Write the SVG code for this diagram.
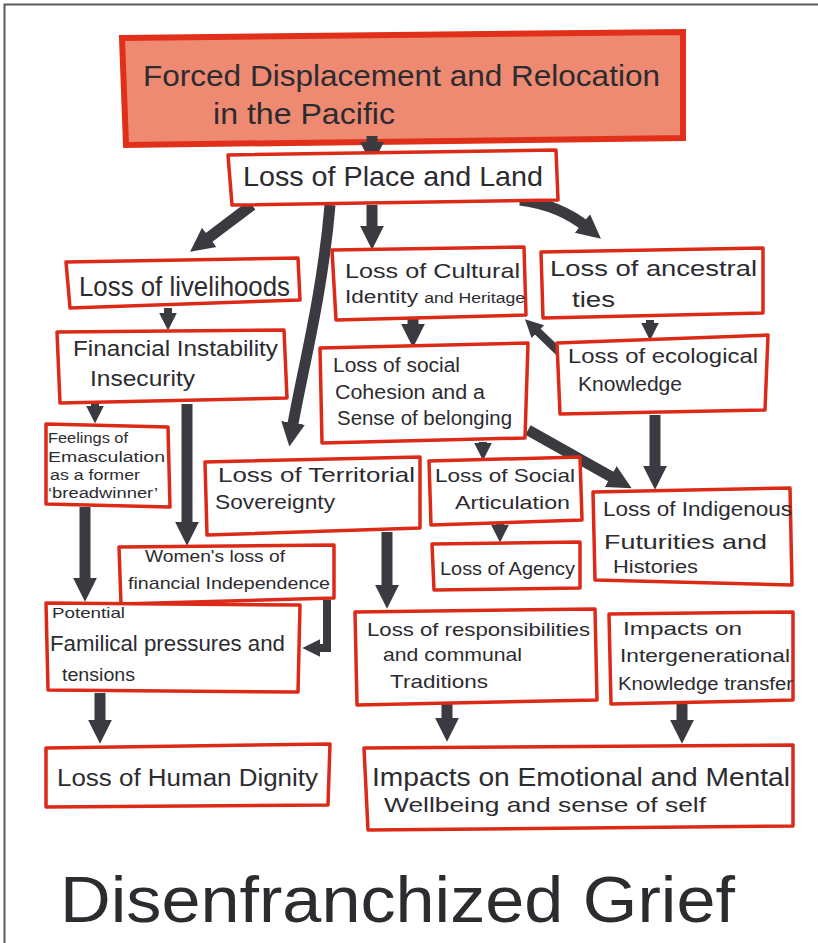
<svg xmlns="http://www.w3.org/2000/svg" width="818" height="943" viewBox="0 0 818 943">
<style>
.box{fill:#ffffff;stroke:#dc2a18;stroke-width:3.5;stroke-linejoin:round}
.title{fill:#ee8a72;stroke:#e0301a;stroke-width:6}
.t{font-family:"Liberation Sans","DejaVu Sans",sans-serif;fill:#2c2b30}
.c{fill:none;stroke:#3b3a40;stroke-width:11}
.cs{fill:none;stroke:#3b3a40;stroke-width:8}
</style>
<defs>
<marker id="ah" viewBox="0 0 10 10" refX="3" refY="5" markerWidth="24" markerHeight="32" markerUnits="userSpaceOnUse" orient="auto"><path d="M0,0 L10,5 L0,10 z" fill="#3b3a40"/></marker>
<marker id="as" viewBox="0 0 10 10" refX="3" refY="5" markerWidth="18" markerHeight="22" markerUnits="userSpaceOnUse" orient="auto"><path d="M0,0 L10,5 L0,10 z" fill="#3b3a40"/></marker>
</defs>
<rect x="0" y="0" width="818" height="943" fill="#ffffff"/>
<path d="M4.5,943 L4.5,4.5 L818,4.5" fill="none" stroke="#5a5a5a" stroke-width="2"/>

<g id="title">
<polygon class="title" points="122,38 683,32 683,138 126,145"/>
<text class="t" x="143" y="86" font-size="30" textLength="517" lengthAdjust="spacingAndGlyphs">Forced Displacement and Relocation</text>
<text class="t" x="213" y="124" font-size="30" textLength="182" lengthAdjust="spacingAndGlyphs">in the Pacific</text>
</g>

<g id="connectors">
<path class="c" d="M372,136 L372,149" marker-end="url(#ah)"/>
<path class="c" d="M252,205 L203.5,241.7" marker-end="url(#ah)"/>
<path class="c" d="M330,205 C322,300 300,380 292,430" marker-end="url(#ah)"/>
<path class="c" d="M372,205 L372,233" marker-end="url(#ah)"/>
<path class="c" d="M520,200 Q560,205 588,228" marker-end="url(#ah)"/>
<path class="cs" d="M168,308 L168,318" marker-end="url(#as)"/>
<path class="c" d="M413,318 L413,331" marker-end="url(#ah)"/>
<path class="cs" d="M650,320 L650,328" marker-end="url(#as)"/>
<path class="cs" d="M560,353 L534,328" marker-end="url(#as)"/>
<path class="cs" d="M95,403 L95,411" marker-end="url(#as)"/>
<path class="c" d="M187,404 L187,529" marker-end="url(#ah)"/>
<path class="c" d="M655,415 L655,473" marker-end="url(#ah)"/>
<path class="c" d="M528,430 L617,480" marker-end="url(#ah)"/>
<path class="cs" d="M483,442 L483,448" marker-end="url(#as)"/>
<path class="cs" d="M500,524 L500,530" marker-end="url(#as)"/>
<path class="c" d="M85,507 L85,585" marker-end="url(#ah)"/>
<path class="cs" d="M327,600 L327,648 L315,648" marker-end="url(#as)"/>
<path class="c" d="M387,532 L387,592" marker-end="url(#ah)"/>
<path class="c" d="M100,693 L100,727" marker-end="url(#ah)"/>
<path class="c" d="M447,703 L447,725" marker-end="url(#ah)"/>
<path class="c" d="M682,701 L682,727" marker-end="url(#ah)"/>
</g>

<g id="place">
<polygon class="box" points="228,155 556,150 558,200 232,205"/>
<text class="t" x="243" y="186" font-size="28" textLength="300" lengthAdjust="spacingAndGlyphs">Loss of Place and Land</text>
</g>
<g id="livelihoods">
<polygon class="box" points="66,262 298,258 300,300 70,308"/>
<text class="t" x="79" y="296" font-size="27" textLength="211" lengthAdjust="spacingAndGlyphs">Loss of livelihoods</text>
</g>
<g id="cultural">
<polygon class="box" points="332,250 524,247 526,315 336,320"/>
<text class="t" x="345" y="278" font-size="21" textLength="175" lengthAdjust="spacingAndGlyphs">Loss of Cultural</text>
<text class="t" x="345" y="303" font-size="18" textLength="180" lengthAdjust="spacingAndGlyphs">Identity <tspan font-size="14">and Heritage</tspan></text>
</g>
<g id="ancestral">
<polygon class="box" points="541,252 763,248 763,313 543,318"/>
<text class="t" x="550" y="276" font-size="22" textLength="207" lengthAdjust="spacingAndGlyphs">Loss of ancestral</text>
<text class="t" x="572" y="307" font-size="22" textLength="43" lengthAdjust="spacingAndGlyphs">ties</text>
</g>
<g id="financial">
<polygon class="box" points="57,332 284,330 287,398 60,403"/>
<text class="t" x="73" y="356" font-size="22" textLength="205" lengthAdjust="spacingAndGlyphs">Financial Instability</text>
<text class="t" x="90" y="386" font-size="22" textLength="105" lengthAdjust="spacingAndGlyphs">Insecurity</text>
</g>
<g id="social">
<polygon class="box" points="320,348 528,343 525,438 322,443"/>
<text class="t" x="333" y="372" font-size="20" textLength="127" lengthAdjust="spacingAndGlyphs">Loss of social</text>
<text class="t" x="335" y="399" font-size="20" textLength="150" lengthAdjust="spacingAndGlyphs">Cohesion and a</text>
<text class="t" x="337" y="425" font-size="20" textLength="175" lengthAdjust="spacingAndGlyphs">Sense of belonging</text>
</g>
<g id="ecological">
<polygon class="box" points="557,343 768,335 765,410 560,414"/>
<text class="t" x="568" y="363" font-size="21" textLength="190" lengthAdjust="spacingAndGlyphs">Loss of ecological</text>
<text class="t" x="578" y="391" font-size="21" textLength="104" lengthAdjust="spacingAndGlyphs">Knowledge</text>
</g>
<g id="feelings">
<polygon class="box" points="46,424 168,427 170,507 46,504"/>
<text class="t" x="48" y="443" font-size="14" textLength="80" lengthAdjust="spacingAndGlyphs">Feelings of</text>
<text class="t" x="48" y="462" font-size="14" textLength="117" lengthAdjust="spacingAndGlyphs">Emasculation</text>
<text class="t" x="50" y="480" font-size="14" textLength="90" lengthAdjust="spacingAndGlyphs">as a former</text>
<text class="t" x="48" y="498" font-size="14" textLength="110" lengthAdjust="spacingAndGlyphs">‘breadwinner’</text>
</g>
<g id="territorial">
<polygon class="box" points="205,462 420,457 420,528 207,535"/>
<text class="t" x="218" y="482" font-size="21" textLength="197" lengthAdjust="spacingAndGlyphs">Loss of Territorial</text>
<text class="t" x="215" y="509" font-size="21" textLength="120" lengthAdjust="spacingAndGlyphs">Sovereignty</text>
</g>
<g id="articulation">
<polygon class="box" points="429,461 580,457 582,520 431,525"/>
<text class="t" x="435" y="482" font-size="19" textLength="140" lengthAdjust="spacingAndGlyphs">Loss of Social</text>
<text class="t" x="455" y="509" font-size="19" textLength="115" lengthAdjust="spacingAndGlyphs">Articulation</text>
</g>
<g id="indigenous">
<polygon class="box" points="593,492 790,488 792,585 595,580"/>
<text class="t" x="603" y="516" font-size="21" textLength="189" lengthAdjust="spacingAndGlyphs">Loss of Indigenous</text>
<text class="t" x="604" y="549" font-size="21" textLength="163" lengthAdjust="spacingAndGlyphs">Futurities and</text>
<text class="t" x="613" y="573" font-size="18" textLength="85" lengthAdjust="spacingAndGlyphs">Histories</text>
</g>
<g id="womens">
<polygon class="box" points="119,547 334,545 334,598 121,604"/>
<text class="t" x="145" y="562" font-size="16" textLength="140" lengthAdjust="spacingAndGlyphs">Women's loss of</text>
<text class="t" x="128" y="589" font-size="17" textLength="202" lengthAdjust="spacingAndGlyphs">financial Independence</text>
</g>
<g id="agency">
<polygon class="box" points="432,544 580,542 580,588 434,590"/>
<text class="t" x="440" y="575" font-size="18" textLength="135" lengthAdjust="spacingAndGlyphs">Loss of Agency</text>
</g>
<g id="familial">
<polygon class="box" points="46,603 300,605 298,692 48,690"/>
<text class="t" x="52" y="618" font-size="15" textLength="73" lengthAdjust="spacingAndGlyphs">Potential</text>
<text class="t" x="50" y="651" font-size="22" textLength="235" lengthAdjust="spacingAndGlyphs">Familical pressures and</text>
<text class="t" x="62" y="681" font-size="19" textLength="73" lengthAdjust="spacingAndGlyphs">tensions</text>
</g>
<g id="responsibilities">
<polygon class="box" points="355,612 595,609 597,700 357,705"/>
<text class="t" x="367" y="636" font-size="19" textLength="223" lengthAdjust="spacingAndGlyphs">Loss of responsibilities</text>
<text class="t" x="383" y="661" font-size="19" textLength="139" lengthAdjust="spacingAndGlyphs">and communal</text>
<text class="t" x="390" y="688" font-size="19" textLength="98" lengthAdjust="spacingAndGlyphs">Traditions</text>
</g>
<g id="intergenerational">
<polygon class="box" points="609,614 793,612 793,700 611,704"/>
<text class="t" x="623" y="635" font-size="18" textLength="119" lengthAdjust="spacingAndGlyphs">Impacts on</text>
<text class="t" x="620" y="662" font-size="18" textLength="170" lengthAdjust="spacingAndGlyphs">Intergenerational</text>
<text class="t" x="618" y="690" font-size="18" textLength="175" lengthAdjust="spacingAndGlyphs">Knowledge transfer</text>
</g>
<g id="dignity">
<polygon class="box" points="46,748 330,744 328,805 46,807"/>
<text class="t" x="57" y="786" font-size="23" textLength="261" lengthAdjust="spacingAndGlyphs">Loss of Human Dignity</text>
</g>
<g id="emotional">
<polygon class="box" points="364,748 793,745 793,826 368,830"/>
<text class="t" x="372" y="786" font-size="25" textLength="418" lengthAdjust="spacingAndGlyphs">Impacts on Emotional and Mental</text>
<text class="t" x="384" y="812" font-size="21" textLength="322" lengthAdjust="spacingAndGlyphs">Wellbeing and sense of self</text>
</g>
<g id="grief">
<text class="t" x="60" y="922" font-size="64" textLength="675" lengthAdjust="spacingAndGlyphs" fill="#38373d">Disenfranchized Grief</text>
</g>
</svg>
